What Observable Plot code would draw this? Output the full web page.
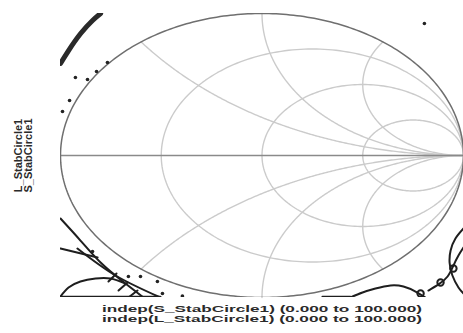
<!DOCTYPE html>
<html>
<head>
<meta charset="utf-8">
<script src="https://cdn.jsdelivr.net/npm/d3@7"></script>
<script src="https://cdn.jsdelivr.net/npm/@observablehq/plot@0.6"></script>
<style>
  html, body { margin: 0; padding: 0; background: #fff; }
  #chart { width: 463px; height: 333px; overflow: hidden; }
</style>
</head>
<body>
<div id="chart"></div>
<script>
// Smith chart grid: constant-resistance circles and constant-reactance arcs
const rCircles = [1 / 3, 1, 3];
const xArcs = [0.5, 1, 2, -0.5, -1, -2];

// Axis / sweep labels
const yLabels = ["L_StabCircle1", "S_StabCircle1"];
const sweepLabels = [
  "indep(S_StabCircle1) (0.000 to 100.000)",
  "indep(L_StabCircle1) (0.000 to 100.000)"
];

// Stability circle traces, as reflection coefficients [re, im]
const sourceBand = [[-1.0, 0.648], [-0.96, 0.739], [-0.90, 0.859], [-0.841, 0.951], [-0.801, 1.0]];
const sourceDots = [[-0.990, 0.310], [-0.955, 0.387], [-0.926, 0.549], [-0.866, 0.535], [-0.821, 0.592], [-0.767, 0.655], [0.806, 0.930]];

const loadLineA = [[-1.0, -0.444], [-0.901, -0.599], [-0.801, -0.754], [-0.697, -0.880], [-0.588, -1.0]];
const loadLineB = [[-1.0, -0.655], [-0.816, -0.718]];
const loadLineC = [[-0.916, -0.655], [-0.727, -0.845], [-0.504, -1.0]];
const loadArc = [[-1.0, -0.993], [-0.960, -0.930], [-0.901, -0.887], [-0.826, -0.866], [-0.752, -0.866], [-0.68, -0.90]];
const loadRungs = [
  [[-0.762, -0.887], [-0.722, -0.831]],
  [[-0.712, -0.951], [-0.667, -0.894]],
  [[-0.663, -1.0], [-0.618, -0.951]]
];
const loadEdge = [[-1.0, -0.995], [-0.504, -0.995]];
const loadDots = [[-0.841, -0.676], [-0.663, -0.852], [-0.603, -0.852], [-0.519, -0.887], [-0.494, -0.972], [-0.395, -0.99]];

const rightEdge = [[0.300, -0.995], [0.439, -0.995]];
const rightBump = [[0.439, -1.0], [0.499, -0.965], [0.563, -0.937], [0.638, -0.915], [0.702, -0.923], [0.762, -0.958], [0.811, -1.0]];
const rightSweep = [[0.826, -0.951], [0.876, -0.908], [0.921, -0.852], [0.950, -0.775], [0.975, -0.704], [1.0, -0.648]];
const rightArc = [[1.0, -0.514], [0.960, -0.585], [0.936, -0.669], [0.931, -0.755], [0.945, -0.845], [0.975, -0.930], [1.0, -0.972]];
const rightLoops = [[0.787, -0.972], [0.886, -0.894], [0.950, -0.796]];

// Geometry helpers for the grid
function circlePoints(cx, cy, rad, id, n = 240) {
  return d3.range(n + 1).map(i => {
    const a = (2 * Math.PI * i) / n;
    return { id, re: cx + rad * Math.cos(a), im: cy + rad * Math.sin(a) };
  });
}
function reactancePoints(x, id, n = 240) {
  // Gamma = (z - 1) / (z + 1), z = r + jx, r from 0 to infinity
  const pts = d3.range(n).map(i => {
    const r = Math.tan((Math.PI / 2) * (i / n));
    const ar = r - 1, br = r + 1;
    const den = br * br + x * x;
    return { id, re: (ar * br + x * x) / den, im: (x * br - ar * x) / den };
  });
  pts.push({ id, re: 1, im: 0 });
  return pts;
}
const toRows = (pairs, id) => pairs.map(([re, im]) => ({ id, re, im }));

const gridR = rCircles.flatMap((r, i) => circlePoints(r / (1 + r), 0, 1 / (1 + r), "r" + i));
const gridX = xArcs.flatMap((x, i) => reactancePoints(x, "x" + i));
const outer = circlePoints(0, 0, 1, "outer", 360);

const thinTraces = [
  ...toRows(loadLineA, "a"), ...toRows(loadLineB, "b"), ...toRows(loadLineC, "c"),
  ...toRows(loadArc, "d"), ...toRows(loadEdge, "e"),
  ...loadRungs.flatMap((seg, i) => toRows(seg, "rung" + i)),
  ...toRows(rightEdge, "f"), ...toRows(rightBump, "g"),
  ...toRows(rightSweep, "h"), ...toRows(rightArc, "k")
];

const labelFont = { fontWeight: "bold", fill: "#2a2a2a" };

const chart = Plot.plot({
  width: 463,
  height: 333,
  marginLeft: 60,
  marginRight: 0,
  marginTop: 13,
  marginBottom: 36,
  style: { fontFamily: "'Liberation Sans', Arial, sans-serif", background: "#fff" },
  x: { domain: [-1, 1], axis: null },
  y: { domain: [-1, 1], axis: null },
  marks: [
    Plot.line(gridR, { x: "re", y: "im", z: "id", stroke: "#cbcbcb", strokeWidth: 1.4 }),
    Plot.line(gridX, { x: "re", y: "im", z: "id", stroke: "#cbcbcb", strokeWidth: 1.4 }),
    Plot.ruleY([0], { x1: -1, x2: 1, stroke: "#8a8a8a", strokeWidth: 1.6 }),
    Plot.line(outer, { x: "re", y: "im", stroke: "#6f6f6f", strokeWidth: 1.5, clip: true }),
    Plot.line(toRows(sourceBand, "band"), { x: "re", y: "im", stroke: "#2a2a2a", strokeWidth: 5, curve: "natural", clip: true }),
    Plot.line(thinTraces, { x: "re", y: "im", z: "id", stroke: "#1e1e1e", strokeWidth: 2, curve: "natural", clip: true }),
    Plot.dot(rightLoops.map(([re, im]) => ({ re, im })), { x: "re", y: "im", r: 3.2, stroke: "#1e1e1e", strokeWidth: 2, fill: "none", clip: true }),
    Plot.dot(toRows(sourceDots.concat(loadDots), "dots"), { x: "re", y: "im", r: 1.8, fill: "#222", stroke: "none", clip: true }),
    Plot.text([yLabels[0]], { text: d => d, frameAnchor: "left", textAnchor: "middle", rotate: -90, dx: -42, fontSize: 11, ...labelFont }),
    Plot.text([yLabels[1]], { text: d => d, frameAnchor: "left", textAnchor: "middle", rotate: -90, dx: -32, fontSize: 11, ...labelFont }),
    Plot.text([sweepLabels[0]], { text: d => d, frameAnchor: "bottom", dy: 14, fontSize: 9.5, ...labelFont }),
    Plot.text([sweepLabels[1]], { text: d => d, frameAnchor: "bottom", dy: 24, fontSize: 9.5, ...labelFont })
  ]
});

// Sweep captions are drawn wide, to the span of the chart
d3.select(chart).selectAll("text")
  .filter(function () { return this.textContent.startsWith("indep"); })
  .attr("textLength", 320)
  .attr("lengthAdjust", "spacingAndGlyphs");

document.getElementById("chart").appendChild(chart);
</script>
</body>
</html>
